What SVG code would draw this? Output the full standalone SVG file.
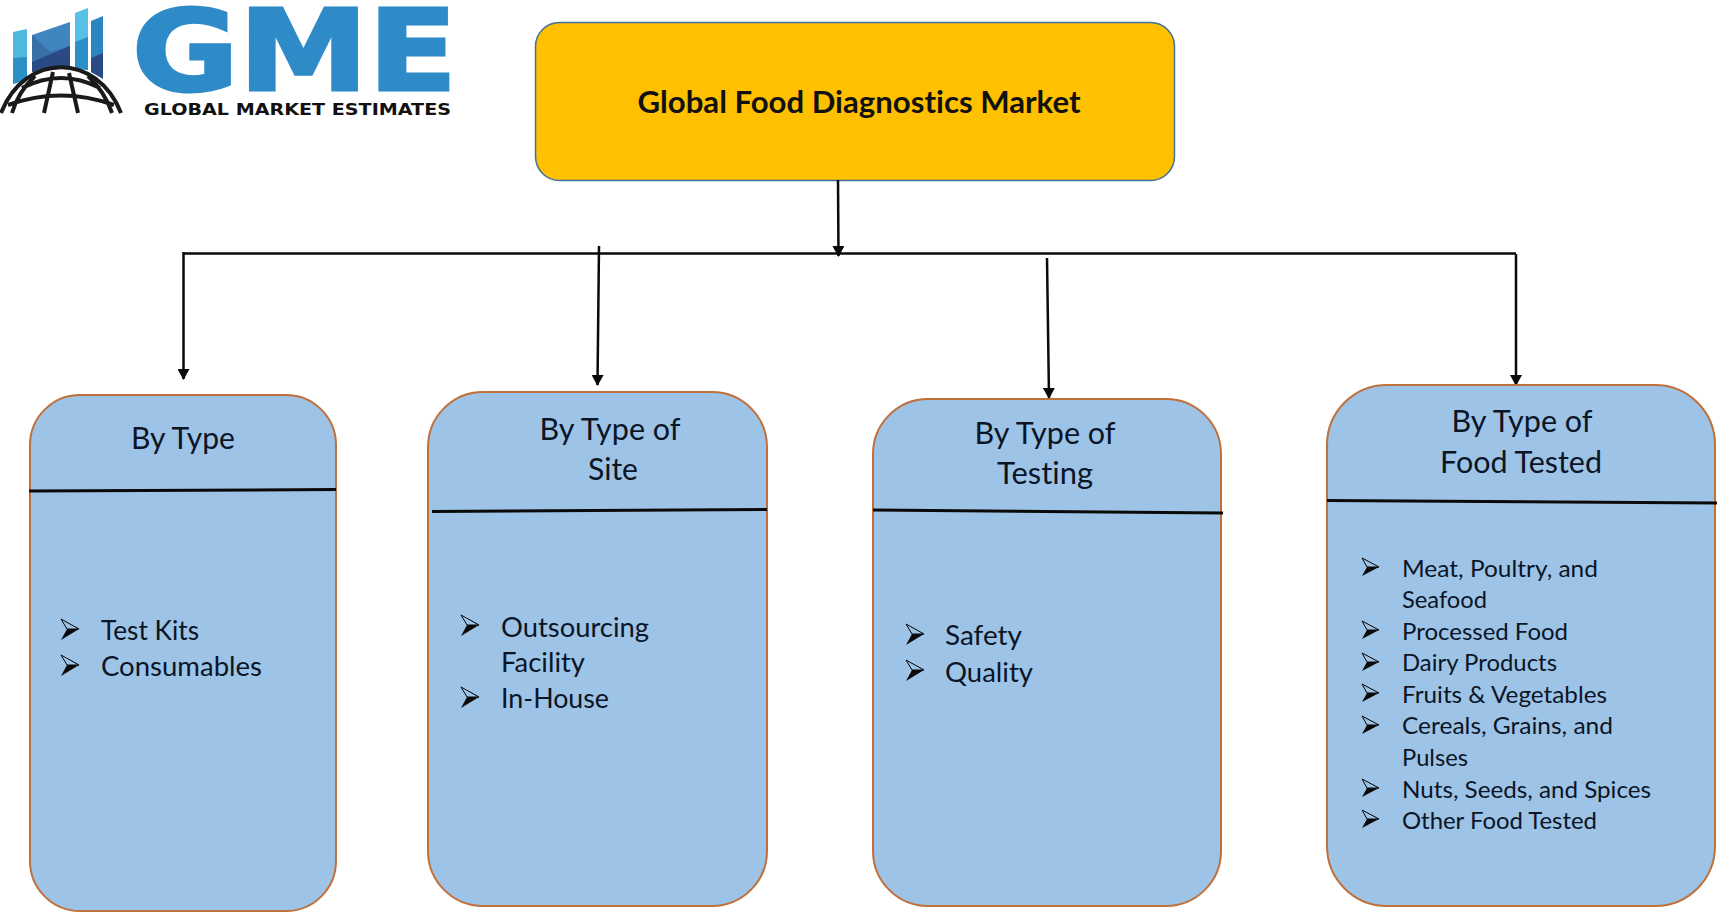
<svg xmlns="http://www.w3.org/2000/svg" width="1720" height="912" viewBox="0 0 1720 912">
<style>
text{font-family:"Lato","Liberation Sans",sans-serif;fill:#0b1526;font-variant-ligatures:none}
.card{fill:#9dc3e6;stroke:#c0703a;stroke-width:2}
.head{font-size:30px;text-anchor:middle}
.item{font-size:26px}
.sm{font-size:24px}
.rule{stroke:#0a0a0a;stroke-width:3;fill:none}
.conn{stroke:#0a0a0a;stroke-width:2.5;fill:none}
.globe{stroke:#1a1a1a;stroke-width:4;fill:none}
.logo{font-family:"DejaVu Sans",sans-serif;font-weight:700}
</style>
<defs>
<marker id="arr" markerUnits="userSpaceOnUse" markerWidth="12" markerHeight="12" refX="10" refY="6" orient="auto"><path d="M0,0L11,6L0,12Z" fill="#0a0a0a"/></marker>
<symbol id="bul" overflow="visible"><path d="M0,0L18,10L0,21L6,10Z" fill="#0a0a0a"/><path d="M0,0L18,10L6,10Z" fill="#9dc3e6" stroke="#0a0a0a" stroke-width="1"/></symbol>
<symbol id="buls" overflow="visible"><path d="M0,0L17,9L0,18L5,9Z" fill="#0a0a0a"/><path d="M0,0L17,9L5,9Z" fill="#9dc3e6" stroke="#0a0a0a" stroke-width="1"/></symbol>
</defs>
<rect width="1720" height="912" fill="#fff"/>
<g id="logo">
<path d="M13,32L27,29V80L13,84Z" fill="#4fb8e0"/><path d="M13,58L27,57V80L13,84Z" fill="#2b8fc8"/>
<path d="M32,35L70,22V68L32,52Z" fill="#3f85bf"/><path d="M32,35V72L70,68V46L50,52Z" fill="#3a6fa8"/><path d="M32,62L70,46V67L32,72Z" fill="#2a4a85"/>
<path d="M75,13L88,8V70L75,69Z" fill="#55c1e6"/><path d="M75,42L88,37V70L75,69Z" fill="#2b8fc8"/>
<path d="M91,21L103,16V78L91,72Z" fill="#2b85c0"/><path d="M91,58L103,53V79L91,72Z" fill="#2a4a85"/>
<g class="globe"><path d="M1,113C25,52 97,52 121,113"/><path d="M22,88Q61,68 100,88M8,105Q61,86 114,105M53,72L44,113M69,73L78,113M35,76Q18,92 12,113M88,76Q105,92 112,113"/></g>
<text class="logo" x="132" y="90" font-size="112" textLength="325" lengthAdjust="spacingAndGlyphs" style="fill:#2e8bc8;stroke:#2e8bc8;stroke-width:3">GME</text>
<text class="logo" x="144" y="115" font-size="15" textLength="307" lengthAdjust="spacingAndGlyphs" style="fill:#111">GLOBAL MARKET ESTIMATES</text>
</g>
<g id="root"><rect x="535.500" y="22.500" width="639" height="158" rx="24" fill="#ffc000" stroke="#41719c" stroke-width="1.500"/>
<text x="859" y="113" font-size="30" font-weight="700" text-anchor="middle" textLength="443" lengthAdjust="spacingAndGlyphs" style="fill:#111">Global Food Diagnostics Market</text></g>
<g id="connectors">
<path class="conn" marker-end="url(#arr)" d="M838,180L838.500,256"/>
<path class="conn" d="M183,253.500H1516"/>
<path class="conn" marker-end="url(#arr)" d="M183.500,252L183.500,379"/>
<path class="conn" marker-end="url(#arr)" d="M599,246L597.500,385"/>
<path class="conn" marker-end="url(#arr)" d="M1047,258L1049,398"/>
<path class="conn" marker-end="url(#arr)" d="M1516,254V385"/>
</g>
<g id="type"><rect class="card" x="30" y="395" width="306" height="516" rx="50"/>
<path class="rule" d="M29,491L336,489.500"/>
<text class="head" x="183" y="449" textLength="104" lengthAdjust="spacingAndGlyphs">By Type</text>
<use href="#bul" x="61" y="619"/><text class="item" x="101" y="640" textLength="98" lengthAdjust="spacingAndGlyphs">Test Kits</text>
<use href="#bul" x="61" y="655"/><text class="item" x="101" y="676" textLength="161" lengthAdjust="spacingAndGlyphs">Consumables</text></g>
<g id="site"><rect class="card" x="428" y="392" width="339" height="514" rx="55"/>
<path class="rule" d="M432,511.500L767,509.500"/>
<text class="head" x="610" y="440" textLength="141" lengthAdjust="spacingAndGlyphs">By Type of</text><text class="head" x="613" y="480" textLength="50" lengthAdjust="spacingAndGlyphs">Site</text>
<use href="#bul" x="461" y="615"/><text class="item" x="501" y="637" textLength="148" lengthAdjust="spacingAndGlyphs">Outsourcing</text>
<text class="item" x="501" y="672" textLength="84" lengthAdjust="spacingAndGlyphs">Facility</text>
<use href="#bul" x="461" y="687"/><text class="item" x="501" y="708" textLength="108" lengthAdjust="spacingAndGlyphs">In-House</text></g>
<g id="testing"><rect class="card" x="873" y="399" width="348" height="507" rx="55"/>
<path class="rule" d="M873,510L1223,513"/>
<text class="head" x="1045" y="444" textLength="141" lengthAdjust="spacingAndGlyphs">By Type of</text><text class="head" x="1045" y="484" textLength="96" lengthAdjust="spacingAndGlyphs">Testing</text>
<use href="#bul" x="906" y="624"/><text class="item" x="945" y="645" textLength="77" lengthAdjust="spacingAndGlyphs">Safety</text>
<use href="#bul" x="906" y="660"/><text class="item" x="945" y="682" textLength="88" lengthAdjust="spacingAndGlyphs">Quality</text></g>
<g id="food"><rect class="card" x="1327" y="385" width="388" height="521" rx="60"/>
<path class="rule" d="M1327,500.500L1717,503"/>
<text class="head" x="1522" y="432" textLength="141" lengthAdjust="spacingAndGlyphs">By Type of</text><text class="head" x="1521" y="473" textLength="162" lengthAdjust="spacingAndGlyphs">Food Tested</text>
<use href="#buls" x="1362" y="558"/><text class="item sm" x="1402" y="577" textLength="196" lengthAdjust="spacingAndGlyphs">Meat, Poultry, and</text>
<text class="item sm" x="1402" y="608" textLength="85" lengthAdjust="spacingAndGlyphs">Seafood</text>
<use href="#buls" x="1362" y="621"/><text class="item sm" x="1402" y="640" textLength="166" lengthAdjust="spacingAndGlyphs">Processed Food</text>
<use href="#buls" x="1362" y="653"/><text class="item sm" x="1402" y="671" textLength="155" lengthAdjust="spacingAndGlyphs">Dairy Products</text>
<use href="#buls" x="1362" y="684"/><text class="item sm" x="1402" y="703" textLength="205" lengthAdjust="spacingAndGlyphs">Fruits &amp; Vegetables</text>
<use href="#buls" x="1362" y="716"/><text class="item sm" x="1402" y="734" textLength="211" lengthAdjust="spacingAndGlyphs">Cereals, Grains, and</text>
<text class="item sm" x="1402" y="766" textLength="66" lengthAdjust="spacingAndGlyphs">Pulses</text>
<use href="#buls" x="1362" y="779"/><text class="item sm" x="1402" y="798" textLength="249" lengthAdjust="spacingAndGlyphs">Nuts, Seeds, and Spices</text>
<use href="#buls" x="1362" y="810"/><text class="item sm" x="1402" y="829" textLength="195" lengthAdjust="spacingAndGlyphs">Other Food Tested</text>
</g>
</svg>
